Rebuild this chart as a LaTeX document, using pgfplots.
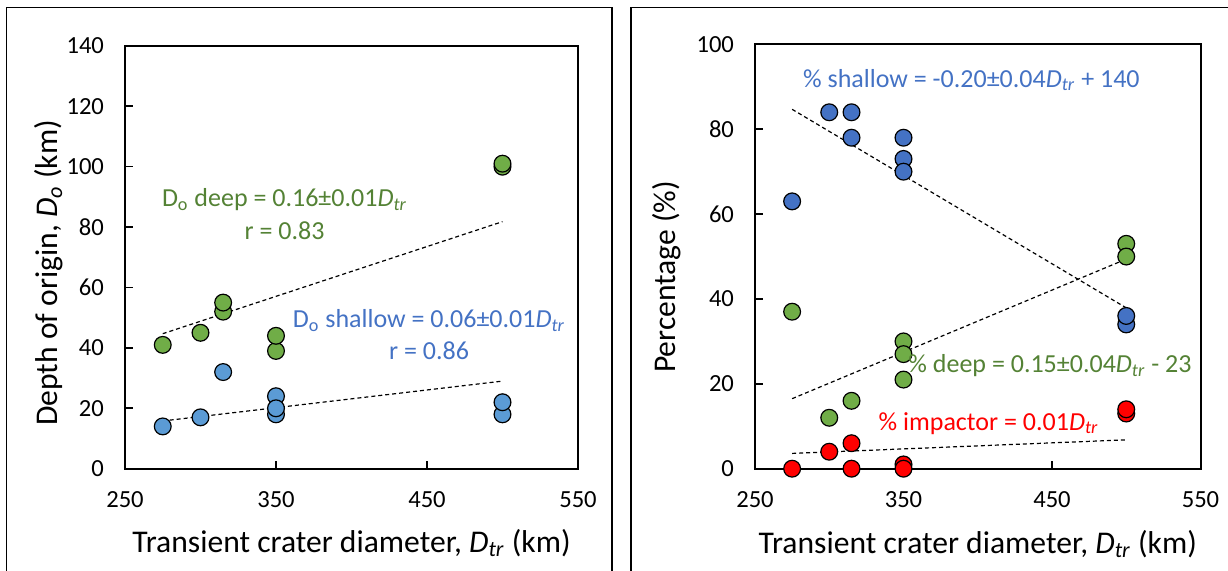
\documentclass[border=0pt]{standalone}
\usepackage{pgfplots}
\pgfplotsset{compat=1.18}
\usepackage{fontspec}
\setmainfont{Carlito}
\definecolor{gfill}{HTML}{70AD47}
\definecolor{bfillL}{HTML}{5B9BD5}
\definecolor{bfillR}{HTML}{4472C4}
\definecolor{rfill}{HTML}{FF0000}
\definecolor{gtext}{HTML}{548235}
\definecolor{btext}{HTML}{4472C4}
\definecolor{rtext}{HTML}{FF0000}
\pgfplotsset{
  common/.style={
    scale only axis,
    anchor=south west,
    xmin=250, xmax=550, xtick={250,350,450,550},
    xtick pos=left, ytick pos=left, tick align=inside,
    axis line style={line width=1pt},
    major tick style={line width=0.8pt, black},
    major tick length=4pt,
    tick label style={font=\fontsize{12.3}{14}\selectfont},
    /pgf/number format/assume math mode=true,
    xticklabel style={yshift=-8pt},
    yticklabel style={xshift=-7pt},
    label style={font=\fontsize{15.8}{18}\selectfont},
    clip=false,
  },
  pt/.style={only marks, mark=*, mark size=4.2pt, mark options={draw=black, line width=0.6pt, fill=#1}},
  trend/.style={black, line width=0.6pt, dash pattern=on 2pt off 1.5pt, mark=none},
}
\newcommand{\Dtr}{\textit{D}\textsubscript{\textit{tr}}}
\begin{document}
\begin{tikzpicture}
\useasboundingbox (0,0) rectangle (614pt,285.5pt);
\draw[line width=0.8pt] (3.25pt,-5pt) -- (3.25pt,281.75pt) -- (306pt,281.75pt) -- (306pt,-5pt);
\draw[line width=0.8pt] (315.5pt,-5pt) -- (315.5pt,281.75pt) -- (620pt,281.75pt);

% Left panel
\begin{axis}[common,
  at={(62.5pt,51.15pt)}, width=226.5pt, height=211.4pt,
  ymin=0, ymax=140, ytick={0,20,...,140},
  xlabel={Transient crater diameter, \Dtr{} (km)},
  ylabel={Depth of origin, \textit{D}\textsubscript{\textit{o}} (km)},
  xlabel style={at={(axis description cs:0.5,-0.176)},anchor=center},
  ylabel style={at={(axis description cs:-0.168,0.463)},anchor=center},
]
\addplot[pt=gfill] coordinates {(275,41) (300,45) (315,52) (315,55) (350,39) (350,44) (500,100) (500,101)};
\addplot[pt=bfillL] coordinates {(275,14) (300,17) (315,32) (350,24) (350,18) (350,20) (500,18) (500,22)};
\addplot[trend] coordinates {(275,44.7) (500,81.8)};
\addplot[trend] coordinates {(275,15.8) (500,29)};
\end{axis}

% Right panel
\begin{axis}[common,
  at={(377.5pt,51.15pt)}, width=222.75pt, height=212.15pt,
  ymin=0, ymax=100, ytick={0,20,...,100},
  xlabel={Transient crater diameter, \Dtr{} (km)},
  ylabel={Percentage (\%)},
  xlabel style={at={(axis description cs:0.5,-0.1775)},anchor=center},
  ylabel style={at={(axis description cs:-0.1975,0.452)},anchor=center},
]
\addplot[pt=bfillR] coordinates {(275,63) (300,84) (315,84) (315,78) (350,78) (350,73) (350,70) (500,34) (500,36)};
\addplot[pt=gfill] coordinates {(275,37) (300,12) (315,16) (350,30) (350,27) (350,21) (500,53) (500,50)};
\addplot[pt=rfill] coordinates {(275,0) (300,4) (315,6) (315,0) (350,1) (350,0) (500,13) (500,14)};
\addplot[trend] coordinates {(275,84.7) (500,37.9)};
\addplot[trend] coordinates {(275,16.5) (500,49.4)};
\addplot[trend] coordinates {(275,3.6) (500,6.8)};
\end{axis}

% Annotations
\begin{scope}[every node/.style={font=\fontsize{13}{15}\selectfont, anchor=base, inner sep=0pt}]
\node[text=gtext] at (142.25pt,182.1pt) {D\textsubscript{o} deep = 0.16±0.01\Dtr};
\node[text=gtext] at (142.25pt,165.7pt) {r = 0.83};
\node[text=btext] at (214.5pt,121.65pt) {D\textsubscript{o} shallow = 0.06±0.01\Dtr};
\node[text=btext] at (214.5pt,105.6pt) {r = 0.86};
\node[text=btext] at (485.7pt,241.8pt) {\% shallow = -0.20±0.04\Dtr{} + 140};
\node[text=gtext] at (525pt,99pt) {\% deep = 0.15±0.04\Dtr{} - 23};
\node[text=rtext] at (494.3pt,70.3pt) {\% impactor = 0.01\Dtr};
\end{scope}
\end{tikzpicture}
\end{document}
